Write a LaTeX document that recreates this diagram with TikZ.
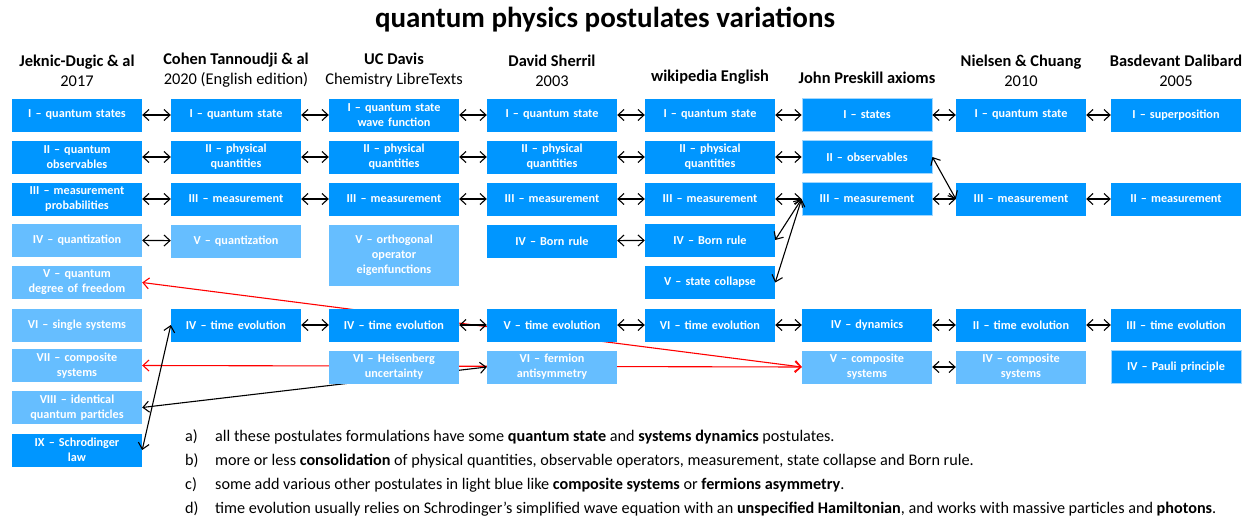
\documentclass[tikz,border=0pt]{standalone}
\usepackage{fontspec}
\setmainfont{Carlito}
\usetikzlibrary{arrows.meta,backgrounds}
\definecolor{dk}{RGB}{0,150,255}
\definecolor{lt}{RGB}{102,190,255}
\definecolor{edge}{RGB}{160,215,255}
\begin{document}
\begin{tikzpicture}[x=1pt,y=-1pt,
 box/.style={minimum width=130pt,minimum height=33pt,inner sep=1pt,align=center,text=white,
   font=\fontsize{12.2}{15}\selectfont\bfseries,text width=128pt},
 dbox/.style={box,fill=dk},
 lbox/.style={box,fill=lt},
 ebox/.style={dbox,draw=edge,line width=0.8pt},
 link/.style={line width=1.1pt,{Straight Barb[length=6pt,width=11pt]}-{Straight Barb[length=6pt,width=11pt]}},
 rlink/.style={link,red},
 hd/.style={font=\fontsize{16.4}{20}\selectfont,align=center},
 note/.style={anchor=west,inner sep=0pt,font=\fontsize{16.2}{18}\selectfont}
]
\useasboundingbox (0,0) rectangle (1250,519);
\node[font=\fontsize{29}{32}\selectfont\bfseries] (title) at (605,20) {quantum physics postulates variations};
% headers
\node[hd] (hj) at (77,70.5) {\textbf{Jeknic-Dugic \& al}\\2017};
\node[hd] (hc) at (236,70.5) {\textbf{Cohen Tannoudji \& al}\\2020 (English edition)};
\node[hd] (hu) at (394,70.5) {\textbf{UC Davis}\\Chemistry LibreTexts};
\node[hd] (hs) at (552,70.5) {\textbf{David Sherril}\\2003};
\node[hd] (hw) at (710,77.5) {\textbf{wikipedia English}};
\node[hd] (hp) at (867,77.5) {\textbf{John Preskill axioms}};
\node[hd] (hn) at (1021,70.5) {\textbf{Nielsen \& Chuang}\\2010};
\node[hd] (hb) at (1176,70.5) {\textbf{Basdevant Dalibard}\\2005};
% Jeknic
\node[dbox] (ja) at (77,115) {I – quantum states};
\node[dbox] (jb) at (77,157) {II – quantum\\observables};
\node[dbox] (jc) at (77,199) {III – measurement\\probabilities};
\node[lbox] (jd) at (77,240) {IV – quantization};
\node[lbox] (je) at (77,282.5) {V – quantum\\degree of freedom};
\node[lbox] (jf) at (77,325) {VI – single systems};
\node[lbox] (jg) at (77,365.5) {VII – composite\\systems};
\node[lbox] (jh) at (77,407.5) {VIII – identical\\quantum particles};
\node[dbox] (ji) at (77,450) {IX – Schrodinger\\law};
% Cohen
\node[dbox] (ca) at (236,115) {I – quantum state};
\node[dbox] (cb) at (236,157) {II – physical\\quantities};
\node[dbox] (cc) at (236,199) {III – measurement};
\node[lbox] (cq) at (236,241) {V – quantization};
\node[dbox] (ct) at (236,325) {IV – time evolution};
% UC Davis
\node[dbox] (ua) at (394,115) {I – quantum state\\wave function};
\node[dbox] (ub) at (394,157) {II – physical\\quantities};
\node[dbox] (uc) at (394,199) {III – measurement};
\node[lbox,minimum height=61pt] (uo) at (394,255.5) {V – orthogonal\\operator\\eigenfunctions};
\node[dbox] (ut) at (394,325) {IV – time evolution};
\node[lbox] (uh) at (394,367) {VI – Heisenberg\\uncertainty};
% Sherril
\node[dbox] (sa) at (552,115) {I – quantum state};
\node[dbox] (sb) at (552,157) {II – physical\\quantities};
\node[dbox] (sc) at (552,199) {III – measurement};
\node[dbox] (sd) at (552,241) {IV – Born rule};
\node[dbox] (st) at (552,325) {V – time evolution};
\node[lbox] (sf) at (552,367) {VI – fermion\\antisymmetry};
% wikipedia
\node[dbox] (wa) at (710,115) {I – quantum state};
\node[dbox] (wb) at (710,157) {II – physical\\quantities};
\node[dbox] (wc) at (710,199) {III – measurement};
\node[dbox] (wd) at (710,240) {IV – Born rule};
\node[dbox] (we) at (710,282.5) {V – state collapse};
\node[dbox] (wt) at (710,325) {VI – time evolution};
% Preskill
\node[ebox] (pa) at (867,115) {I – states};
\node[ebox] (pb) at (867,157) {II – observables};
\node[ebox] (pc) at (867,199) {III – measurement};
\node[dbox] (pt) at (867,325) {IV – dynamics};
\node[lbox] (pm) at (867,367) {V – composite\\systems};
% Nielsen
\node[dbox] (na) at (1021,115) {I – quantum state};
\node[dbox] (nc) at (1021,199) {III – measurement};
\node[dbox] (nt) at (1021,325) {II – time evolution};
\node[lbox] (nm) at (1021,367) {IV – composite\\systems};
% Basdevant
\node[dbox] (ba) at (1176,115) {I – superposition};
\node[dbox] (bc) at (1176,199) {II – measurement};
\node[dbox] (bt) at (1176,325) {III – time evolution};
\node[ebox] (bp) at (1176,367) {IV – Pauli principle};
% long connectors behind boxes
\begin{pgfonlayer}{background}
\draw[rlink] (je.east) -- (pm.west);
\draw[rlink] (jg.east) -- (pm.west);
\draw[link] (jh.east) -- (sf.west);
\end{pgfonlayer}
% row links
\foreach \a/\b in {ja/ca,ca/ua,ua/sa,sa/wa,wa/pa,pa/na,na/ba,
                   jb/cb,cb/ub,ub/sb,sb/wb,wb/pb,
                   jc/cc,cc/uc,uc/sc,sc/wc,wc/pc,pc/nc,nc/bc,
                   jd/cq,sd/wd,
                   ct/ut,ut/st,st/wt,wt/pt,pt/nt,nt/bt,
                   pm/nm}
  \draw[link] (\a) -- (\b);
\draw[link] (pc.west) -- (wd.east);
\draw[link] (pc.west) -- (we.east);
\draw[link] (pb.east) -- (nc.west);
\draw[link] (ji.east) -- (ct.west);
% notes
\node[note] (la) at (185,437) {a)};
\node[note] (ta) at (215,437) {all these postulates formulations have some \textbf{quantum state} and \textbf{systems dynamics} postulates.};
\node[note] (lb) at (185,461) {b)};
\node[note] (tb) at (215,461) {more or less \textbf{consolidation} of physical quantities, observable operators, measurement, state collapse and Born rule.};
\node[note] (lc) at (185,485) {c)};
\node[note] (tc) at (215,485) {some add various other postulates in light blue like \textbf{composite systems} or \textbf{fermions asymmetry}.};
\node[note] (ld) at (185,509) {d)};
\node[note] (td) at (215,509) {time evolution usually relies on Schrodinger’s simplified wave equation with an \textbf{unspecified Hamiltonian}, and works with massive particles and \textbf{photons}.};
\end{tikzpicture}
\end{document}
